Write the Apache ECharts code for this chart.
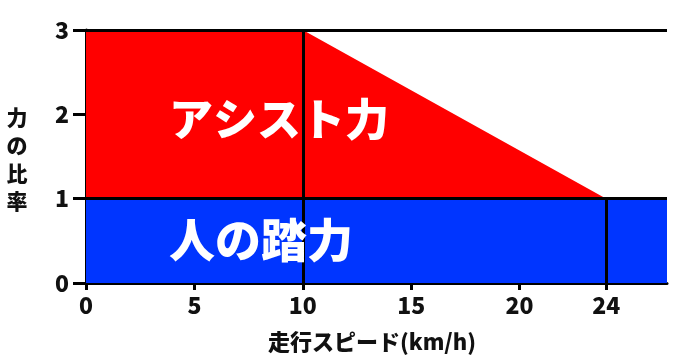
<!DOCTYPE html>
<html>
<head>
<meta charset="utf-8">
<script src="https://cdn.jsdelivr.net/npm/echarts@6/dist/echarts.min.js"></script>
<style>html,body{margin:0;padding:0;background:#fff}#c{width:695px;height:358px}</style>
</head>
<body>
<div id="c"></div>
<script>
// Data
const xTicks = [0, 5, 10, 15, 20, 24];
const yTicks = [0, 1, 2, 3];
const xMax = 26.8;
const assistSpeed = [0, 10, 24, 26.8];     // km/h
const assistTop = [3, 3, 1, 1];            // total force ratio (human + assist)
const humanSpeed = [0, 26.8];
const humanForce = [1, 1];
const hLines = [1, 3];
const vLines = [[10, 0, 3], [24, 0, 1]];   // x, from y, to y
const assistLabel = 'アシスト力';
const humanLabel = '人の踏力';
const xName = '走行スピード(km/h)';
const yName = '力の比率';

const font = '"Noto Sans CJK JP", "Noto Sans", sans-serif';
const chart = echarts.init(document.getElementById('c'), null, {renderer: 'canvas'});
const grid = {left: 86, right: 28, top: 30, bottom: 75};

const lineStyle = {color: '#000', width: 3, type: 'solid'};
chart.setOption({
  animation: false,
  grid: grid,
  xAxis: {
    type: 'value', min: 0, max: xMax,
    axisLine: {show: true, lineStyle: {color: '#000', width: 3}},
    axisTick: {show: true, length: 7, lineStyle: {color: '#000', width: 3}, customValues: xTicks},
    axisLabel: {customValues: xTicks, margin: 11, color: '#111', fontSize: 23, fontWeight: 900, fontFamily: font},
    splitLine: {show: false}
  },
  yAxis: {
    type: 'value', min: 0, max: 3, interval: 1,
    axisLine: {show: true, lineStyle: {color: '#000', width: 3}},
    axisTick: {show: true, length: 13, lineStyle: {color: '#000', width: 3}},
    axisLabel: {margin: 17, color: '#111', fontSize: 23, fontWeight: 900, fontFamily: font},
    splitLine: {show: false}
  },
  series: [
    {
      type: 'line', data: assistSpeed.map((x, i) => [x, assistTop[i]]),
      symbol: 'none', lineStyle: {width: 0}, areaStyle: {color: '#ff0000', opacity: 1}, z: 1
    },
    {
      type: 'line', data: humanSpeed.map((x, i) => [x, humanForce[i]]),
      symbol: 'none', lineStyle: {width: 0}, areaStyle: {color: '#0035ff', opacity: 1}, z: 2,
      markLine: {
        silent: true, symbol: 'none', label: {show: false}, lineStyle: lineStyle,
        data: hLines.map(v => ({yAxis: v})).concat(
          vLines.map(l => [{coord: [l[0], l[1]]}, {coord: [l[0], l[2]]}]))
      }
    }
  ],
  graphic: [
    {type: 'text', x: 279, y: 119, z: 100, style: {text: assistLabel, fill: '#fff', font: '900 44px ' + font, textAlign: 'center', textVerticalAlign: 'middle'}},
    {type: 'text', x: 261, y: 240, z: 100, style: {text: humanLabel, fill: '#fff', font: '900 46px ' + font, textAlign: 'center', textVerticalAlign: 'middle'}},
    {type: 'text', x: 17, y: 159, z: 100, style: {text: yName.split('').join('\n'), fill: '#111', font: '900 21px ' + font, lineHeight: 28, textAlign: 'center', textVerticalAlign: 'middle'}},
    {type: 'text', x: 372, y: 342, z: 100, style: {text: xName, fill: '#111', font: '900 22px ' + font, textAlign: 'center', textVerticalAlign: 'middle'}}
  ]
});
</script>
</body>
</html>
